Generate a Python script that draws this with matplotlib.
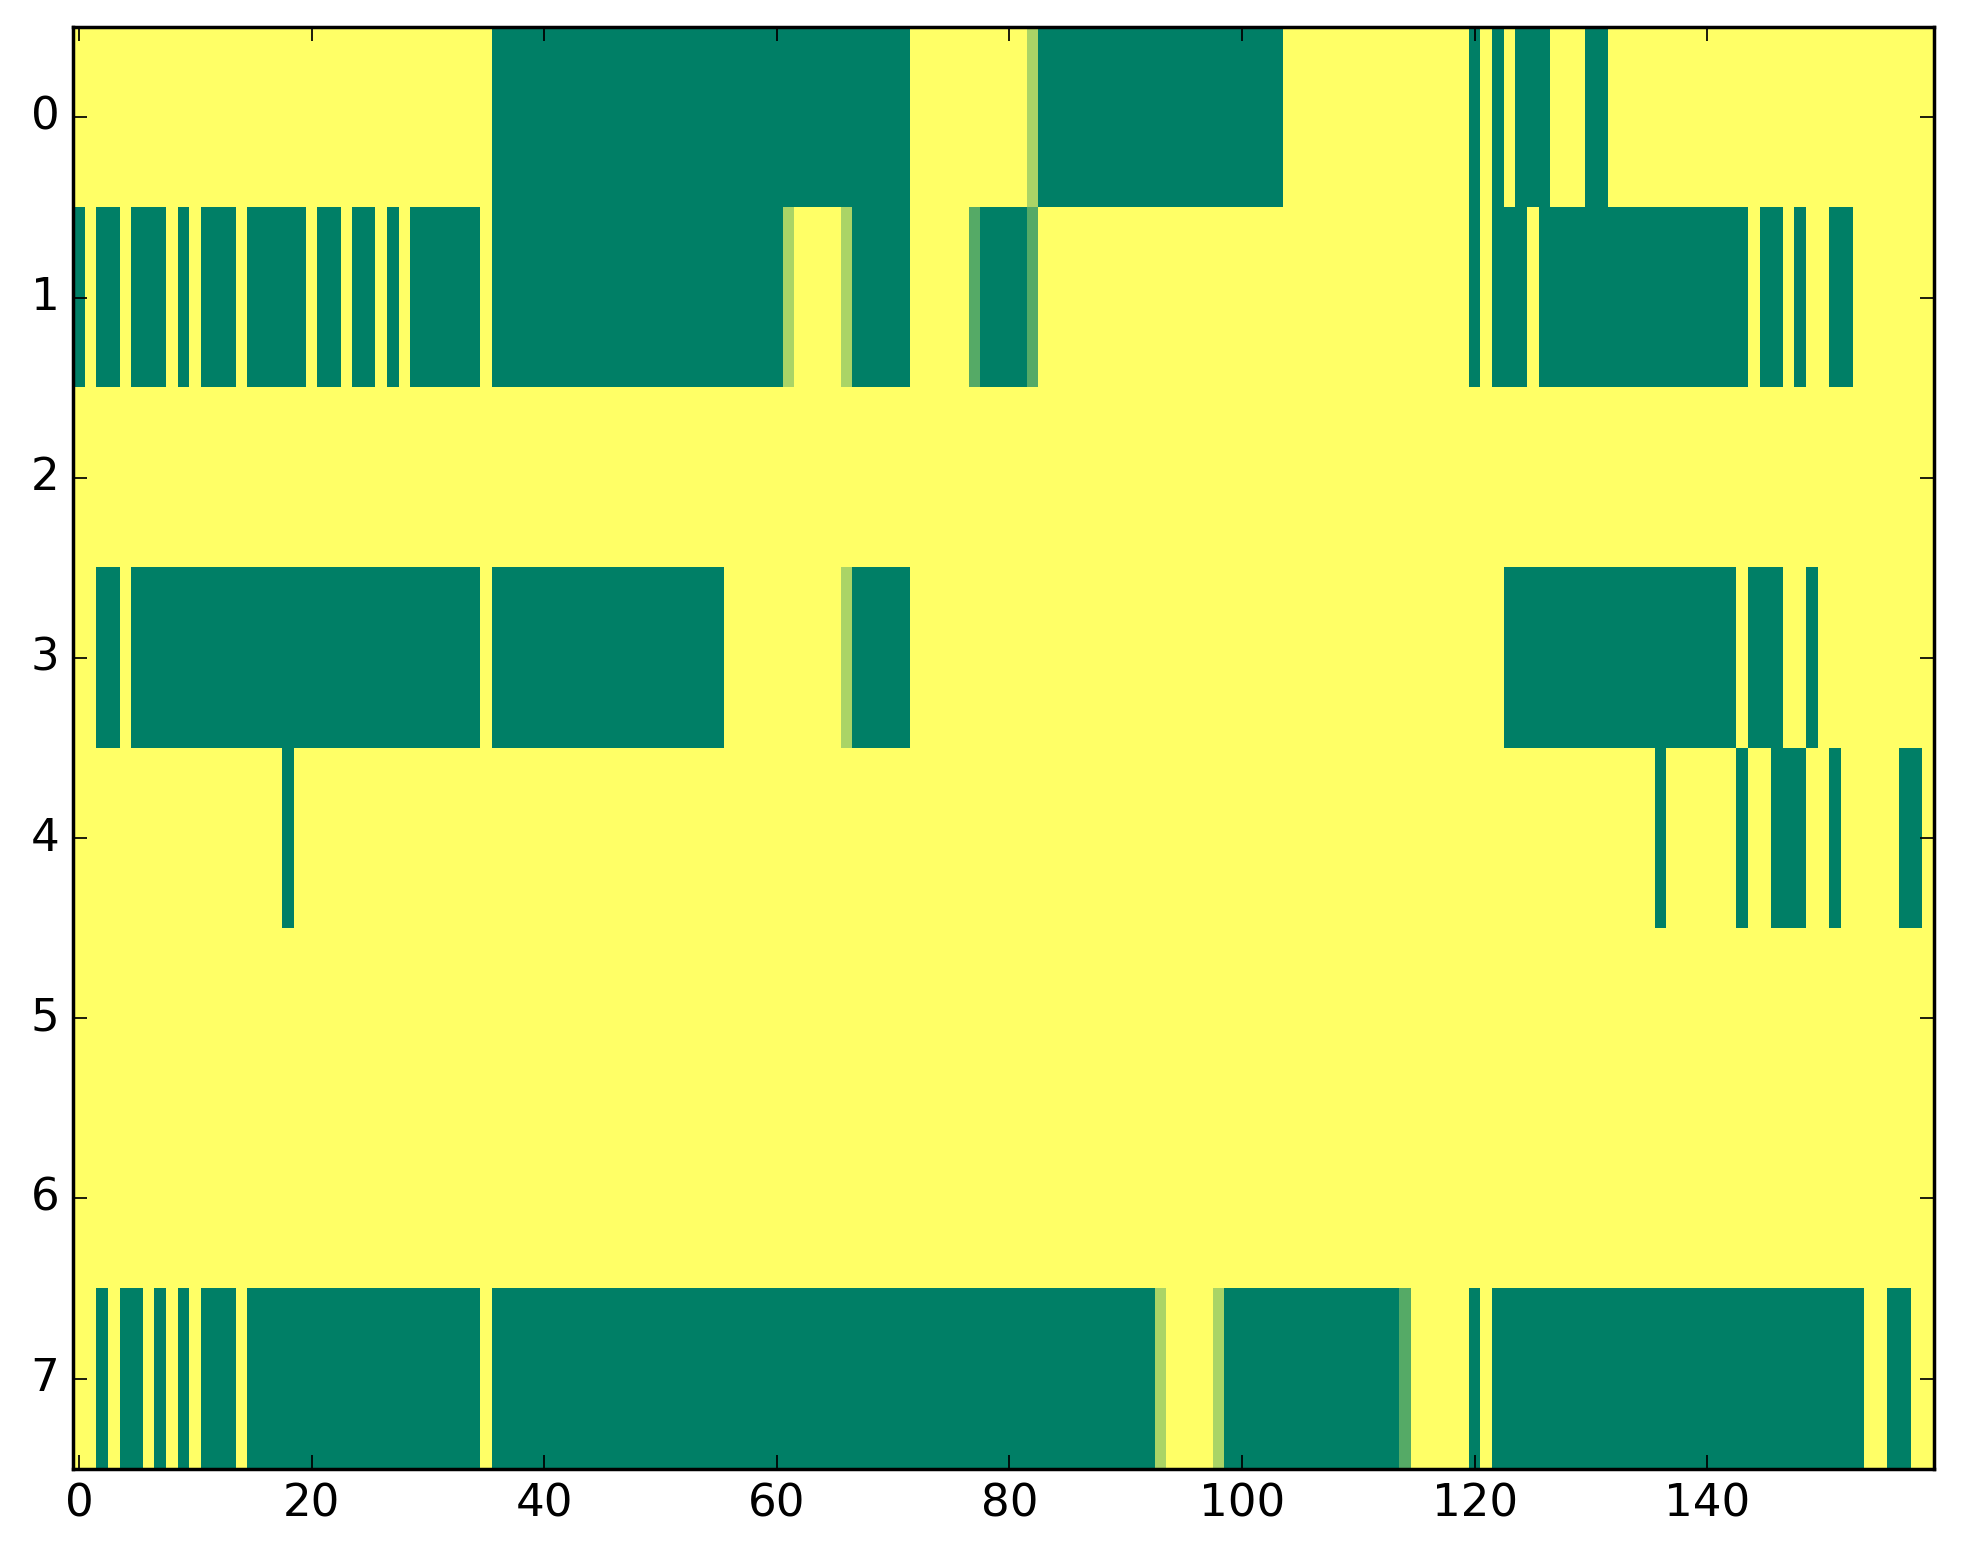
import numpy as np
import matplotlib
matplotlib.use('Agg')
import matplotlib.pyplot as plt

plt.style.use('classic')

n_rows, n_cols = 8, 160

# green (value 0) column runs per row, inclusive
green_runs = {
    0: [(36, 71), (83, 103), (120, 120), (122, 122), (124, 126), (130, 131)],
    1: [(0, 0), (2, 3), (5, 7), (9, 9), (11, 13), (15, 19), (21, 22), (24, 25),
        (27, 27), (29, 34), (36, 60), (67, 71), (78, 81), (120, 120), (122, 124),
        (126, 143), (145, 146), (148, 148), (151, 152)],
    2: [],
    3: [(2, 3), (5, 34), (36, 55), (67, 71), (123, 142), (144, 146), (149, 149)],
    4: [(18, 18), (136, 136), (143, 143), (146, 148), (151, 151), (157, 158)],
    5: [],
    6: [],
    7: [(2, 2), (4, 5), (7, 7), (9, 9), (11, 13), (15, 34), (36, 92), (99, 113),
        (120, 120), (122, 153), (156, 157)],
}

# cells with in-between values (row, col, value)
partial_cells = [
    (0, 82, 2/3),
    (1, 61, 2/3), (1, 66, 2/3), (1, 77, 1/3), (1, 82, 1/3),
    (3, 66, 2/3),
    (7, 93, 2/3), (7, 98, 2/3), (7, 114, 1/3),
]

data = np.ones((n_rows, n_cols))
for r, runs in green_runs.items():
    for a, b in runs:
        data[r, a:b + 1] = 0.0
for r, c, v in partial_cells:
    data[r, c] = v

fig = plt.figure(figsize=(1963 / 250, 1564 / 250), dpi=250, facecolor='white')
ax = fig.add_axes([0.0373, 0.0610, 0.9480, 0.9215])
ax.imshow(data, cmap='summer', vmin=0, vmax=1, aspect='auto',
          interpolation='nearest')

ax.set_xticks(np.arange(0, 160, 20))
ax.set_yticks(np.arange(0, 8))
ax.set_xlim(-0.5, 159.5)
ax.set_ylim(7.5, -0.5)
ax.tick_params(labelsize=13)

fig.savefig('out.png', dpi=250, facecolor='white')
